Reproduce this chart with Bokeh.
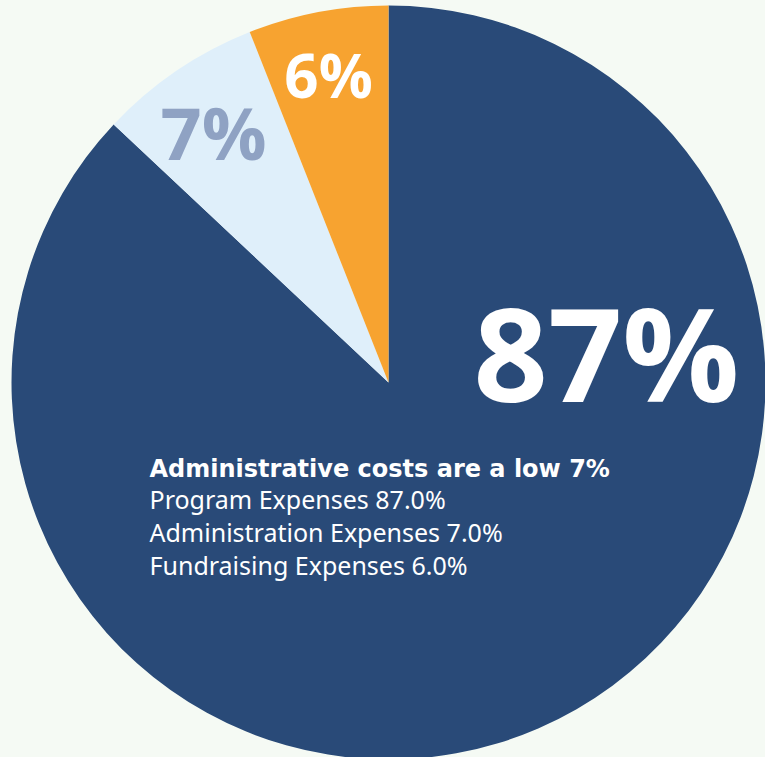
import math
from bokeh.plotting import figure
from bokeh.models import Range1d, ColumnDataSource
from bokeh.core.properties import value
from bokeh.embed import file_html
from bokeh.resources import INLINE

# ---- data ----
categories = ["Program Expenses", "Administration Expenses", "Fundraising Expenses"]
values = [87.0, 7.0, 6.0]
slice_labels = ["87%", "7%", "6%"]
title_text = "Administrative costs are a low 7%"

# ---- style ----
colors = ["#294a78", "#dfeffa", "#f7a330"]
label_colors = ["#ffffff", "#8fa2c3", "#ffffff"]
label_sizes = ["130px", "72px", "60px"]
label_x = [218, -175, -60]
label_y = [31, 251, 308]
BG = "#f5faf4"
R = 377

total = sum(values)
starts, ends = [], []
a = math.pi / 2
for v in values:
    starts.append(a)
    a -= v / total * 2 * math.pi
    ends.append(a)

p = figure(width=765, height=757, output_backend="svg", toolbar_location=None,
           x_range=Range1d(-388, 377), y_range=Range1d(-375, 382),
           x_axis_location=None, y_axis_location=None,
           min_border=0, background_fill_color=BG, border_fill_color=BG)
p.grid.visible = False
p.outline_line_color = None

src = ColumnDataSource(dict(start=starts, end=ends, color=colors, cat=categories, val=values))
p.wedge(x=0, y=0, radius=R, start_angle="start", end_angle="end", direction="clock",
        fill_color="color", line_color=None, source=src)

for i, lab in enumerate(slice_labels):
    p.text(x=[label_x[i]], y=[label_y[i]], text=[lab], text_align="center",
           text_baseline="alphabetic", text_color=label_colors[i],
           text_font=value("Open Sans"), text_font_style="bold",
           text_font_size=label_sizes[i])

lines = [f"{c} {v:.1f}%" for c, v in zip(categories, values)]
p.text(x=[-239], y=[-86], text=[title_text], text_align="left", text_baseline="alphabetic",
       text_color="#ffffff", text_font=value("DejaVu Sans"), text_font_style="bold",
       text_font_size="24px")
p.text(x=[-239] * len(lines), y=[-116, -149, -182], text=lines, text_align="left",
       text_baseline="alphabetic", text_color="#ffffff", text_font=value("Noto Sans"),
       text_font_size="25px")

html = file_html(p, INLINE)
html = html.replace("<body>", '<body style="background:%s">' % BG)
open("out.html", "w").write(html)
